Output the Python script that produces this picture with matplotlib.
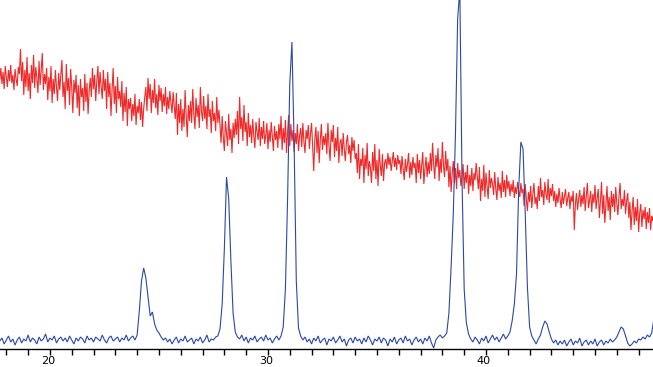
import numpy as np
import matplotlib
matplotlib.use("Agg")
import matplotlib.pyplot as plt
from matplotlib.ticker import MultipleLocator, FixedLocator
import matplotlib.transforms as mtransforms

# 2-theta range covered by the scans (degrees)
two_theta_start = 17.7
two_theta_end = 47.7

# Red pattern (upper, noisy, decreasing background), 0.05 deg steps
red_counts = [
    270, 281, 265, 277, 260, 283, 272, 262, 279, 268, 284, 266, 274, 259, 280, 270, 263, 282, 275, 300,
    268, 287, 254, 279, 262, 292, 258, 276, 250, 284,
    266, 294, 261, 282, 271, 256, 288, 264, 279, 296, 259, 275,
    265, 281, 249, 272, 258, 283, 246, 270, 255, 279, 262, 248, 276, 259,
    274, 289, 252, 267, 240, 285, 258, 271, 244, 280, 262, 236, 269,
    256, 274, 241, 264, 233, 270, 252, 261, 238, 275, 247, 266, 235, 258,
    271, 252, 281, 260, 274, 248, 268, 283, 255, 277, 262, 250, 279, 258,
    270, 240, 277, 252, 266, 233, 259, 281, 245, 263, 236, 272, 250, 258,
    242, 268, 228, 256, 237, 262, 223, 250, 240,
    251, 228, 245, 233, 255, 224, 243, 236, 250, 229, 247, 222, 240, 252,
    262, 238, 271, 250, 265, 236, 259, 246, 270, 241, 255, 234, 264,
    248, 261, 237, 255, 243, 262, 235, 252, 240, 258, 246, 236, 257, 244,
    230, 256, 214, 245, 226, 250, 218, 240, 222, 259, 233, 212, 244, 228,
    248, 226, 260, 235, 220, 251, 232, 244, 221, 262, 238, 228, 253, 230,
    243, 220, 255, 232, 240, 216, 248, 228, 236, 218, 252, 226, 239,
    224, 206, 233, 212, 198, 228, 215, 203, 235, 209, 220, 196, 226, 211,
    230, 214, 238, 205, 252, 220, 232, 208, 244, 217, 227, 203, 236, 212,
    224, 206, 230, 213, 201, 227, 217, 209, 231, 203, 222, 210, 228, 205,
    214, 226, 200, 219, 207, 227, 212, 198, 223, 209, 218, 201, 225,
    210, 233, 199, 221, 206, 229, 196, 217, 234, 203, 225, 208, 219, 197,
    216, 205, 225, 198, 213, 221, 202, 226, 207, 196, 219, 210, 224, 200,
    215, 226, 203, 178, 210, 222, 196, 218, 186, 209, 225, 199, 213, 204,
    216, 195, 226, 203, 188, 219, 207, 224, 192, 211, 198, 222, 186, 206,
    210, 193, 216, 200, 188, 207, 214, 195, 204, 186, 212, 198, 209, 190,
    196, 176, 205, 170, 190, 183, 201, 166, 194, 180, 206, 173, 188,
    181, 166, 197, 178, 205, 170, 189, 163, 200, 184, 173, 195, 168, 186,
    190, 180, 196, 184, 192, 178, 188, 197, 182, 191, 179, 194, 185, 189,
    175, 193, 180, 169, 190, 177, 185, 196, 171, 187, 174, 192, 181,
    186, 166, 195, 176, 189, 170, 184, 197, 165, 180, 192, 172, 187, 175,
    196, 178, 206, 185, 170, 194, 182, 201, 168, 190, 176, 207, 184, 172, 198,
    178, 190, 162, 183, 157, 175, 188, 166, 181, 160, 186, 171, 179, 163,
    172, 185, 160, 177, 166, 184, 155, 174, 163, 181, 158, 176, 169, 186,
    173, 160, 182, 148, 170, 158, 184, 152, 176, 163, 150, 179, 161, 171,
    165, 154, 177, 160, 149, 172, 158, 166, 151, 178, 157, 169, 152, 174,
    160, 168, 153, 165, 157, 169, 151, 162, 155, 167, 158, 152, 166, 156,
    160, 143, 165, 150, 138, 157, 147, 163, 141, 155, 166, 145, 152, 140,
    163, 148, 171, 152, 159, 144, 167, 155, 149, 170, 146, 161, 153, 165,
    148, 158, 142, 155, 146, 161, 150, 141, 157, 145, 153, 160, 143, 151,
    157, 140, 153, 147, 158, 119, 145, 156, 139, 150, 159, 142, 154,
    145, 162, 138, 153, 166, 141, 149, 158, 137, 155, 146, 164, 140, 151,
    160, 131, 148, 167, 135, 154, 126, 145, 163, 138, 152, 129, 158, 142,
    155, 137, 162, 146, 134, 153, 166, 140, 150, 143, 159, 135, 148, 156,
    131, 147, 119, 138, 152, 124, 142, 128, 150, 117, 136, 145, 122, 139,
    130, 142, 120, 137, 126, 141, 119, 133, 128, 138,
]

# Blue pattern (lower, crystalline peaks), 0.1 deg steps
blue_counts = [
    8, 11, 5, 9, 13, 7, 10, 4, 9, 12, 6, 10, 8, 14, 7, 11, 9, 5, 12, 8,
    10, 15, 7, 11, 9, 13, 6, 10, 12, 8, 11, 7, 13, 9, 5, 11, 8, 12, 10, 6,
    13, 9, 11, 7, 12, 10, 8, 14, 9, 6, 11, 13, 8, 10, 12, 7, 11, 9, 14, 8,
    11, 13, 9,
    14, 38, 68, 81, 71, 52, 33, 37, 25, 19, 16, 12, 9,
    11, 7, 10, 5, 9, 12, 6, 10, 8, 13, 7, 9, 11, 5, 10, 8, 12, 6, 9, 14,
    7, 10, 9, 12,
    13, 20, 45, 100, 172, 150, 88, 36, 17, 12,
    10, 14, 8, 12, 6, 11, 9, 13, 7, 10, 12, 8, 14, 9, 11, 6, 10, 13, 9,
    13, 22, 60, 150, 265, 307, 205, 68, 21, 13,
    9, 12, 7, 10, 5, 11, 8, 13, 6, 9, 11, 4, 10, 8, 12, 6, 9, 13, 7, 10,
    3, 9, 11, 6, 12, 8, 10, 5, 11, 7, 13, 9, 4, 10, 8, 12, 6, 11, 9, 3,
    10, 7, 12, 5, 9, 11, 6, 13, 8, 10, 4, 9, 12, 7, 10, 5, 11, 8, 13, 6,
    1, 9, 12, 14, 11, 13,
    16, 36, 82, 135, 215, 330, 360, 170, 60, 26, 15, 10,
    7, 12, 9, 5, 11, 8, 13, 6, 10, 14, 9, 12, 7, 11, 15, 10, 13, 17,
    28, 45, 75, 160, 207, 200, 135, 62, 22, 13,
    9, 5, 10, 14, 22, 28, 25, 17, 10, 6, 9, 4, 8,
    5, 9, 3, 7, 10, 4, 8, 6, 11, 3, 7, 9, 4, 8, 5, 10, 3, 7, 9, 4, 8, 6,
    10, 7, 9,
    12, 17, 22, 20, 13, 6, 3, 5, 8, 6, 10, 9, 12, 10, 14, 12, 16, 30,
]

# Labelled major ticks
tick_values = [20, 30, 40]
tick_labels = ["20", "30", "40"]

red_x = np.linspace(two_theta_start, two_theta_end, len(red_counts))
blue_x = np.linspace(two_theta_start, two_theta_end, len(blue_counts))

fig = plt.figure(figsize=(6.53, 3.67), dpi=100)
ax = fig.add_axes([0, 18 / 367, 1, 1 - 18 / 367])

ax.plot(red_x, red_counts, color="#f02828", lw=0.8, solid_joinstyle="miter")
ax.plot(blue_x, blue_counts, color="#2b48a8", lw=0.8, solid_joinstyle="miter")

ax.set_xlim(17.71, 47.66)
ax.set_ylim(0, 349)

for s in ["left", "right", "top"]:
    ax.spines[s].set_visible(False)
ax.spines["bottom"].set_color("black")
ax.spines["bottom"].set_linewidth(1.0)

ax.set_yticks([])
ax.xaxis.set_major_locator(FixedLocator(tick_values))
ax.set_xticklabels(tick_labels)
ax.xaxis.set_minor_locator(MultipleLocator(1))
ax.tick_params(axis="x", which="both", direction="out", length=4.5, width=1.0,
               color="black", pad=0.5, labelsize=8, labelcolor="black")

offset = mtransforms.ScaledTranslation(-2 / 100, 0, fig.dpi_scale_trans)
for lab in ax.get_xticklabels():
    lab.set_transform(lab.get_transform() + offset)

fig.savefig("out.png", dpi=100, facecolor="white")
